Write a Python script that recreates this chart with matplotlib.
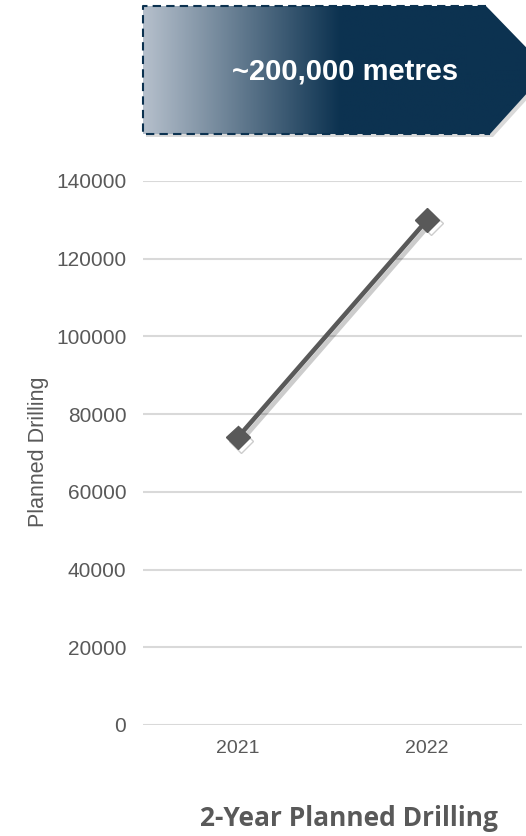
import numpy as np
import matplotlib.pyplot as plt
import matplotlib.patheffects as pe
from matplotlib.patches import Polygon

# data
years = ['2021', '2022']
planned_drilling = [74000, 130000]
y_ticks = [0, 20000, 40000, 60000, 80000, 100000, 120000, 140000]
banner_text = '~200,000 metres'
title = '2-Year Planned Drilling'
y_label = 'Planned Drilling'

grey = '#595959'
navy = '#0c3250'

plt.rcParams['font.family'] = ['Liberation Sans', 'DejaVu Sans']

fig = plt.figure(figsize=(5.26, 8.36), dpi=100)

# main chart
ax = fig.add_axes([143 / 526, 111 / 836, 379 / 526, 544 / 836])
x = np.arange(len(years))
ax.plot(x, planned_drilling, color=grey, lw=3.3, marker='D', markersize=12,
        path_effects=[pe.SimpleLineShadow(offset=(2.5, -2.5), shadow_color='k', alpha=0.2),
                      pe.Normal()], zorder=3)
ax.set_xlim(-0.5, 1.5)
ax.set_ylim(0, 140000)
ax.set_xticks(x)
ax.set_xticklabels(years)
ax.set_yticks(y_ticks)
ax.set_yticklabels([str(v) for v in y_ticks])
ax.tick_params(axis='both', length=0, labelcolor=grey)
ax.tick_params(axis='y', pad=12, labelsize=15)
ax.tick_params(axis='x', pad=11, labelsize=14)
ax.grid(axis='y', color='#d9d9d9', lw=1.5)
ax.set_axisbelow(True)
for s in ax.spines.values():
    s.set_visible(False)

fig.text(39 / 526, 1 - 452 / 836, y_label, rotation=90, ha='center', va='center',
         fontsize=15.5, color=grey)
fig.text(349 / 526, 1 - 818 / 836, title, ha='center', va='center',
         fontsize=19, fontweight='bold', color=grey, family=['Open Sans', 'DejaVu Sans'])

# banner with gradient, in pixel coordinates
bx = fig.add_axes([0, 0, 1, 1], zorder=5)
bx.set_xlim(0, 526)
bx.set_ylim(836, 0)
bx.axis('off')

pts = [(143, 6), (486, 6), (548, 70), (490, 134), (143, 134)]
left = np.array([182, 192, 204]) / 255
right = np.array([12, 50, 80]) / 255
xs = np.linspace(143, 548, 400)
t = np.clip((xs - 143) / (340 - 143), 0, 1)
grad = left[None, :] * (1 - t[:, None]) + right[None, :] * t[:, None]
img = bx.imshow(grad[None, :, :], extent=(143, 548, 134, 6), aspect='auto', zorder=1)
shadow = Polygon([(px + 3, py + 3) for px, py in pts], closed=True,
                 facecolor='k', alpha=0.15, edgecolor='none', zorder=0)
bx.add_patch(shadow)
clip = Polygon(pts, closed=True, facecolor='none', edgecolor='none')
bx.add_patch(clip)
img.set_clip_path(clip)
bx.plot([486, 143, 143, 490], [6, 6, 134, 134], color=navy, lw=1.5, ls=(0, (4, 2.5)), zorder=2)
bx.text(345, 71, banner_text, ha='center', va='center', color='white',
        fontsize=21, fontweight='bold', zorder=3)

fig.savefig('out.png', dpi=100)
